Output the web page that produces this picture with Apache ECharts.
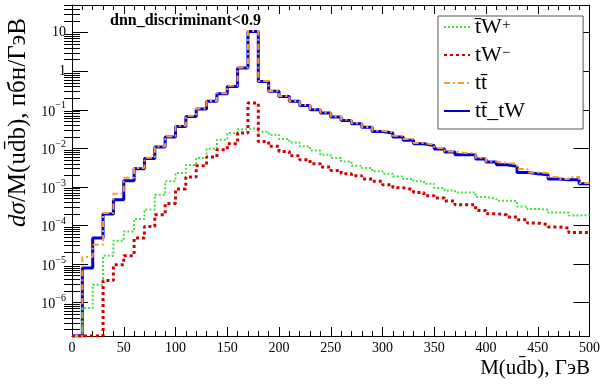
<!DOCTYPE html>
<html>
<head>
<meta charset="utf-8">
<script src="https://cdn.jsdelivr.net/npm/echarts@6/dist/echarts.min.js"></script>
<style>
html,body{margin:0;padding:0;background:#fff;}
#c{width:603px;height:385px;}
</style>
</head>
<body>
<div id="c"></div>
<script>
// ---- data ----
const binEdges = [0,10,20,30,40,50,60,70,80,90,100,110,120,130,140,150,160,170,180,190,200,210,220,230,240,250,260,270,280,290,300,310,320,330,340,350,360,370,380,390,400,410,420,430,440,450,460,470,480,490,500];

const tbarWplus = [0, 7.3e-7, 2.93e-6, 1.65e-5, 4.05e-5, 7.05e-5, 1.48e-4, 2.62e-4, 6.3e-4, 1.40e-3, 2.30e-3, 3.72e-3, 5.64e-3, 9.84e-3, 1.68e-2, 2.51e-2, 3.15e-2, 3.38e-2, 2.71e-2, 2.27e-2, 1.75e-2, 1.43e-2, 1.13e-2, 8.87e-3, 6.87e-3, 5.64e-3, 4.60e-3, 3.56e-3, 3.10e-3, 2.54e-3, 2.21e-3, 1.88e-3, 1.61e-3, 1.40e-3, 1.22e-3, 9.4e-4, 8.15e-4, 7.23e-4, 7.23e-4, 5.5e-4, 4.97e-4, 4.41e-4, 4.34e-4, 3.14e-4, 2.69e-4, 2.58e-4, 2.19e-4, 2.16e-4, 1.83e-4, 1.86e-4];

const tWminus = [0, 0, 0, 3.78e-6, 9.66e-6, 1.65e-5, 4.75e-5, 9.5e-5, 1.91e-4, 3.75e-4, 8.87e-4, 1.82e-3, 3.56e-3, 5.99e-3, 9.27e-3, 1.32e-2, 2.51e-2, 0.150, 1.52e-2, 1.13e-2, 8.37e-3, 6.47e-3, 5.10e-3, 4.02e-3, 3.30e-3, 2.69e-3, 2.21e-3, 1.96e-3, 1.61e-3, 1.40e-3, 1.15e-3, 9.58e-4, 8.51e-4, 7.23e-4, 5.94e-4, 5.18e-4, 4.34e-4, 3.47e-4, 3.47e-4, 2.47e-4, 2.03e-4, 1.91e-4, 1.67e-4, 1.42e-4, 1.16e-4, 1.05e-4, 9.2e-5, 8.65e-5, 6.64e-5, 6.64e-5];

const ttbar = [0, 1.53e-5, 3.19e-5, 2.1e-4, 6.7e-4, 1.74e-3, 3.1e-3, 5.7e-3, 1.12e-2, 2.05e-2, 3.85e-2, 7.0e-2, 0.108, 0.17, 0.27, 0.42, 1.25, 11.0, 0.56, 0.31, 0.23, 0.17, 0.134, 0.104, 0.085, 0.067, 0.055, 0.045, 0.036, 0.0285, 0.026, 0.0214, 0.0175, 0.0138, 0.0125, 0.0103, 0.00837, 0.0076, 0.0076, 0.00564, 0.0046, 0.00419, 0.00402, 0.00292, 0.00239, 0.0023, 0.00182, 0.00161, 0.00182, 0.00127];

const ttbar_tW = [0, 7.9e-6, 4.75e-5, 1.99e-4, 4.68e-4, 1.46e-3, 2.98e-3, 5.5e-3, 1.09e-2, 1.98e-2, 3.72e-2, 6.76e-2, 0.105, 0.166, 0.262, 0.405, 1.22, 10.8, 0.546, 0.301, 0.223, 0.166, 0.130, 0.101, 0.0828, 0.0652, 0.0532, 0.0437, 0.0351, 0.0276, 0.0251, 0.0198, 0.0163, 0.0132, 0.0118, 0.00966, 0.00807, 0.00687, 0.00687, 0.00531, 0.00444, 0.00378, 0.00342, 0.00239, 0.00221, 0.00208, 0.00161, 0.00155, 0.00155, 0.00122];

const yMajorTicks = [1e-6, 1e-5, 1e-4, 1e-3, 1e-2, 1e-1, 1, 10];
const yMinorTicks = [2e-7,3e-7,4e-7,5e-7,6e-7,7e-7,8e-7,9e-7,
  2e-6,3e-6,4e-6,5e-6,6e-6,7e-6,8e-6,9e-6,
  2e-5,3e-5,4e-5,5e-5,6e-5,7e-5,8e-5,9e-5,
  2e-4,3e-4,4e-4,5e-4,6e-4,7e-4,8e-4,9e-4,
  2e-3,3e-3,4e-3,5e-3,6e-3,7e-3,8e-3,9e-3,
  2e-2,3e-2,4e-2,5e-2,6e-2,7e-2,8e-2,9e-2,
  0.2,0.3,0.4,0.5,0.6,0.7,0.8,0.9,
  2,3,4,5,6,7,8,9,
  20,30,40,50];

const yMin = 1.37e-7, yMax = 52.2;
const FONT = '"Liberation Serif", "DejaVu Serif", serif';

function hist(vals){
  const d = [];
  for (let i = 0; i < vals.length; i++) d.push([binEdges[i], vals[i] > 0 ? vals[i] : yMin]);
  d.push([binEdges[vals.length], vals[vals.length-1] > 0 ? vals[vals.length-1] : yMin]);
  return d;
}

function fmtY(v){
  const l = Math.log10(v), e = Math.round(l);
  if (Math.abs(l - e) > 1e-6) return '';
  if (e === 1) return '10';
  if (e === 0) return '1';
  return '{b|10}{s|' + (e < 0 ? '\u2212' + (-e) : e) + '}';
}

const legendNames = {
  'tbarW+': '{m|t\u0304W}{p|+}',
  'tW-': '{m|tW}{p|\u2212}',
  'tt': '{m|tt\u0304}',
  'ttW': '{m|tt\u0304_tW}'
};

const chart = echarts.init(document.getElementById('c'), null, {renderer:'canvas'});
const xCommon = {
  type:'value', min:0, max:500, interval:50,
  axisLine:{show:true, onZero:false, lineStyle:{color:'#000', width:1}},
  axisTick:{show:true, inside:true, length:9, lineStyle:{color:'#000'}},
  minorTick:{show:true, splitNumber:5, length:5, lineStyle:{color:'#000'}},
  splitLine:{show:false}, minorSplitLine:{show:false}
};
const yCommon = {
  type:'log', logBase:10, min:yMin, max:yMax,
  splitLine:{show:false}, minorTick:{show:false}, minorSplitLine:{show:false}
};
chart.setOption({
  animation:false,
  backgroundColor:'#fff',
  grid:{left:72, right:3, top:5, bottom:49, containLabel:false},
  xAxis:[
    Object.assign({}, xCommon, {position:'bottom',
      axisLabel:{show:true, margin:5, color:'#000', fontFamily:FONT, fontSize:14, alignMinLabel:'center', alignMaxLabel:'center', hideOverlap:false}}),
    Object.assign({}, xCommon, {position:'top', axisLabel:{show:false}})
  ],
  yAxis:[
    Object.assign({}, yCommon, {position:'left',
      axisLine:{show:true, onZero:false, lineStyle:{color:'#000', width:1}},
      axisTick:{show:true, inside:true, length:16, customValues:yMajorTicks, lineStyle:{color:'#000'}},
      axisLabel:{show:true, customValues:yMajorTicks, formatter:fmtY, margin:6, color:'#000', fontFamily:FONT, fontSize:14,
        rich:{b:{fontFamily:FONT, fontSize:14, color:'#000', padding:[4,0,0,0]},
              s:{fontFamily:FONT, fontSize:10, color:'#000', verticalAlign:'top'}}}}),
    Object.assign({}, yCommon, {position:'left',
      axisLine:{show:false},
      axisTick:{show:true, inside:true, length:8, customValues:yMinorTicks, lineStyle:{color:'#000'}},
      axisLabel:{show:false}}),
    Object.assign({}, yCommon, {position:'right',
      axisLine:{show:true, onZero:false, lineStyle:{color:'#000', width:1}},
      axisTick:{show:true, inside:true, length:16, customValues:yMajorTicks, lineStyle:{color:'#000'}},
      axisLabel:{show:false}}),
    Object.assign({}, yCommon, {position:'right',
      axisLine:{show:false},
      axisTick:{show:true, inside:true, length:8, customValues:yMinorTicks, lineStyle:{color:'#000'}},
      axisLabel:{show:false}})
  ],
  legend:{
    orient:'vertical', left:438, top:16,
    data:['tbarW+','tW-','tt','ttW'],
    itemWidth:26, itemHeight:14, itemGap:6,
    itemStyle:{opacity:0},
    backgroundColor:'#fff', borderColor:'#555', borderWidth:1, borderRadius:0,
    padding:[0,58,7,5],
    formatter:function(n){ return legendNames[n]; },
    textStyle:{fontFamily:FONT, fontSize:22, color:'#000', lineHeight:18,
      rich:{m:{fontFamily:FONT, fontSize:22, color:'#000', lineHeight:18},
            p:{fontFamily:FONT, fontSize:15, color:'#000', verticalAlign:'top', lineHeight:10}}}
  },
  graphic:[
    {type:'text', x:110, y:21, style:{text:'dnn_discriminant<0.9', font:'bold 16px ' + FONT, fill:'#000', textVerticalAlign:'middle'}},
    {type:'text', x:590, y:368, style:{text:'M(ud\u0304b), \u0413\u044d\u0412', font:'21px ' + FONT, fill:'#000', textAlign:'right', textVerticalAlign:'middle'}},
    {type:'text', x:18, y:18, rotation:Math.PI/2,
      style:{text:'{i|d\u03c3}/M(ud\u0304b), \u043f\u0431\u043d/\u0413\u044d\u0412', font:'25px ' + FONT, fill:'#000', textAlign:'right', textVerticalAlign:'middle',
        rich:{i:{fontStyle:'italic', fontFamily:FONT, fontSize:25, fill:'#000'}}}}
  ],
  series:[
    {name:'ttW', type:'line', step:'end', symbol:'none', xAxisIndex:0, yAxisIndex:0, clip:true,
      data:hist(ttbar_tW), lineStyle:{color:'#0000d0', width:3}, itemStyle:{color:'#0000d0', opacity:0}, z:2},
    {name:'tt', type:'line', step:'end', symbol:'none', xAxisIndex:0, yAxisIndex:0, clip:true,
      data:hist(ttbar), lineStyle:{color:'#ff9933', width:2, type:[6,3,2,3]}, itemStyle:{color:'#ff9933', opacity:0}, z:3},
    {name:'tbarW+', type:'line', step:'end', symbol:'none', xAxisIndex:0, yAxisIndex:0, clip:true,
      data:hist(tbarWplus), lineStyle:{color:'#44dd44', width:2, type:[2,2]}, itemStyle:{color:'#44dd44', opacity:0}, z:4},
    {name:'tW-', type:'line', step:'end', symbol:'none', xAxisIndex:0, yAxisIndex:0, clip:true,
      data:hist(tWminus), lineStyle:{color:'#d00000', width:3, type:[3,3]}, itemStyle:{color:'#d00000', opacity:0}, z:5}
  ]
});
</script>
</body>
</html>
